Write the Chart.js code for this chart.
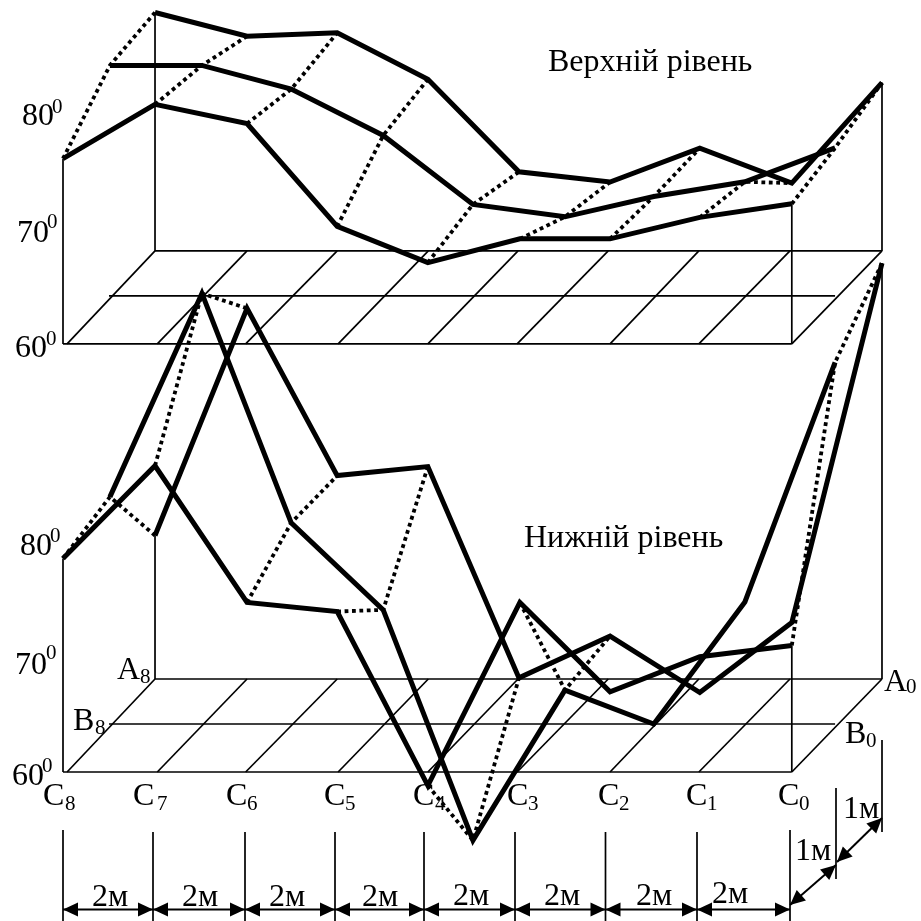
<!DOCTYPE html>
<html>
<head>
<meta charset="utf-8">
<style>html,body{margin:0;padding:0;background:#fff}canvas{display:block}</style>
<script src="https://cdn.jsdelivr.net/npm/chart.js@4/dist/chart.umd.min.js"></script>
</head>
<body>
<canvas id="c" width="921" height="921"></canvas>
<script>
// Along-axis position (metres) of the reading points on each row, C8 .. C0
const rowCPos = [0, 2.02, 4.04, 6.02, 8.01, 10.03, 12.01, 13.98, 16.0];
const rowBPos = [1.03, 3.05, 5.01, 7.03, 9.0, 11.02, 12.97, 14.97, 16.95];
const rowAPos = [2.02, 4.04, 6.02, 8.01, 10.01, 12.01, 13.98, 16.0, 17.98];

// Upper level temperatures (deg)
const upperC = [76.4, 81.2, 79.5, 70.4, 67.2, 69.3, 69.3, 71.2, 72.4];
const upperB = [80.4, 80.4, 78.3, 74.2, 68.1, 67.0, 68.8, 70.1, 73.1];
const upperA = [81.1, 79.0, 79.3, 75.2, 67.0, 66.1, 69.1, 66.0, 74.9];

// Lower level temperatures (deg)
const lowerC = [78.9, 87.1, 75.0, 74.2, 58.8, 75.0, 67.1, 70.2, 71.2];
const lowerB = [80.1, 98.1, 77.8, 70.1, 49.7, 63.0, 60.0, 70.8, 92.0];
const lowerA = [72.7, 92.8, 78.0, 78.8, 60.1, 63.8, 58.8, 65.0, 96.8];

// Columns joined by dotted cross-lines on each level
const upperDottedCols = [0, 1, 2, 3, 4, 5, 6, 7, 8];
const lowerDottedCols = [0, 1, 2, 3, 4, 5, 8];

// Floor grid
const gridFront = [0.09, 2.07, 4.01, 6.04, 8.01, 9.97, 12.01, 13.96, 16.0];
const gridBack  = [2.02, 4.04, 6.02, 8.02, 9.99, 11.97, 13.96, 15.96, 17.98];
const gridRowStart = [0, 1.01, 2.02];
const gridRowEnd   = [16.0, 16.95, 17.98];
const baseTemp = 60;

// Text
const tickValues = ['60', '70', '80'];
const columnNames = ['8', '7', '6', '5', '4', '3', '2', '1', '0'];
const upperTitle = 'Верхній рівень';
const lowerTitle = 'Нижній рівень';
const spanLong = '2м';
const spanShort = '1м';

// Projection constants (oblique drawing)
const PX_PER_M = 45.55, PX_PER_DEG = 11.3, X0 = 63, Y0 = 772;
const rowLift = [0, 4.25, 8.23];
const levelLift = [0, 37.88];
const rowPos = [rowCPos, rowBPos, rowAPos];
const pt = (level, row, col, t) => ({x: rowPos[row][col], y: t + rowLift[row] + levelLift[level]});
const levels = [[lowerC, lowerB, lowerA], [upperC, upperB, upperA]];

const datasets = [];
const thin = (data) => datasets.push({data, showLine:true, pointRadius:0, borderColor:'#000', borderWidth:1.7, order:3});
const pxThin = (data, w) => datasets.push({data, showLine:true, pointRadius:0, borderColor:'#000', borderWidth:w||1.7, xAxisID:'xPx', yAxisID:'yPx', order:3});

[0, 1].forEach(level => {
  const L = levelLift[level];
  // horizontal floor lines
  [0, 1, 2].forEach(r => thin([{x:gridRowStart[r], y:baseTemp+rowLift[r]+L},{x:gridRowEnd[r], y:baseTemp+rowLift[r]+L}]));
  // diagonal floor lines
  gridFront.forEach((f, i) => thin([{x:f, y:baseTemp+L},{x:gridBack[i], y:baseTemp+rowLift[2]+L}]));
  // corner posts
  [[0,0],[2,0],[0,8],[2,8]].forEach(([r,c]) => {
    const top = pt(level, r, c, levels[level][r][c]);
    thin([top, {x:top.x, y:baseTemp+rowLift[r]+L}]);
  });
  // dotted cross-lines
  (level ? upperDottedCols : lowerDottedCols).forEach(c => {
    datasets.push({
      data:[0,1,2].map(r => pt(level, r, c, levels[level][r][c])),
      showLine:true, pointRadius:0, borderColor:'#000', borderWidth:3.8,
      borderDash:[3.8,3.6], borderCapStyle:'butt', order:2
    });
  });
  // thick series
  [0, 1, 2].forEach(r => {
    datasets.push({
      label:(level?'upper ':'lower ')+'CBA'[r],
      data:levels[level][r].map((t, c) => pt(level, r, c, t)),
      showLine:true, pointRadius:0, borderColor:'#000', borderWidth:5,
      borderJoinStyle:'miter', borderCapStyle:'butt', order:1
    });
  });
});

// Dimension lines beneath the chart (drawing furniture, on pixel axes)
const dimTicks = [63, 153, 245, 335, 424, 515, 605.5, 697, 790];
const dimY = 909.5;
dimTicks.forEach((x, i) => pxThin([{x, y: i===0||i===8 ? 830 : 832},{x, y:921}], 1.7));
for (let i = 0; i < 8; i++) pxThin([{x:dimTicks[i], y:dimY},{x:dimTicks[i+1], y:dimY}], 2);
pxThin([{x:836,y:788},{x:836,y:879}], 1.7);
pxThin([{x:882,y:740},{x:882,y:832}], 1.7);
const diagDims = [[790,905,836,865],[837,862,882,818]];
diagDims.forEach(d => pxThin([{x:d[0],y:d[1]},{x:d[2],y:d[3]}], 2));

const big = '32px "Liberation Serif"', small = '21px "Liberation Serif"';
const textPlugin = {
  id:'notes',
  afterDatasetsDraw(chart){
    const ctx = chart.ctx, sx = chart.scales.xPx, sy = chart.scales.yPx;
    ctx.save();
    ctx.fillStyle = '#000';
    ctx.textBaseline = 'alphabetic';
    ctx.textAlign = 'left';
    const T = (s, x, y, f) => { ctx.font = f || big; ctx.fillText(s, sx.getPixelForValue(x), sy.getPixelForValue(y)); };
    const head = (x, y, tx, ty) => { // tip at x,y pointing away from tx,ty
      const a = Math.atan2(y-ty, x-tx), l = 15, w = 7;
      const X = sx.getPixelForValue(x), Y = sy.getPixelForValue(y);
      ctx.beginPath(); ctx.moveTo(X, Y);
      ctx.lineTo(X-l*Math.cos(a)-w*Math.sin(a), Y-l*Math.sin(a)+w*Math.cos(a));
      ctx.lineTo(X-l*Math.cos(a)+w*Math.sin(a), Y-l*Math.sin(a)-w*Math.cos(a));
      ctx.closePath(); ctx.fill();
    };
    for (let i = 0; i < 8; i++) {
      head(dimTicks[i], dimY, dimTicks[i+1], dimY);
      head(dimTicks[i+1], dimY, dimTicks[i], dimY);
    }
    diagDims.forEach(d => { head(d[0],d[1],d[2],d[3]); head(d[2],d[3],d[0],d[1]); });

    // value labels: [text index, left, baseline, superscript left, superscript baseline]
    [[2,22,125,52,113],[1,17,242,47,228],[0,15,357,46,345],
     [2,20,555,50,542],[1,15,674,46,659],[0,12,785,42,772]].forEach(v => {
      T(tickValues[v[0]], v[1], v[2]); T('0', v[3], v[4], small);
    });
    T(upperTitle, 548, 71);
    T(lowerTitle, 524, 547);
    // floor labels
    T('A', 117, 679); T(columnNames[0], 140, 683, small);
    T('B', 73, 730);  T(columnNames[0], 95, 734, small);
    T('A', 884, 691); T(columnNames[8], 906, 693, small);
    T('B', 845, 743); T(columnNames[8], 866, 747, small);
    const cLeft = [43,133,226,324,413,507,598,686,778], cSub = [65,157,247,345,435,528,619,707,799];
    columnNames.forEach((n, i) => { T('C', cLeft[i], 805); T(n, cSub[i], 810, small); });
    // span labels
    [[92,906],[182,906],[269,906],[362,906],[453,905],[544,905],[636,905],[712,903]].forEach(p => T(spanLong, p[0], p[1]));
    T(spanShort, 795, 860); T(spanShort, 843, 818);
    ctx.restore();
  }
};

new Chart(document.getElementById('c'), {
  type:'scatter',
  data:{datasets},
  plugins:[textPlugin],
  options:{
    responsive:false, animation:false, events:[],
    layout:{padding:0},
    plugins:{legend:{display:false}, tooltip:{enabled:false}, title:{display:false}},
    elements:{line:{tension:0, fill:false}},
    scales:{
      x:{type:'linear', display:false, min:-X0/PX_PER_M, max:(921-X0)/PX_PER_M},
      y:{type:'linear', display:false, min:baseTemp-(921-Y0)/PX_PER_DEG, max:baseTemp+Y0/PX_PER_DEG},
      xPx:{type:'linear', display:false, axis:'x', min:0, max:921},
      yPx:{type:'linear', display:false, axis:'y', min:0, max:921, reverse:true}
    }
  }
});
</script>
</body>
</html>
